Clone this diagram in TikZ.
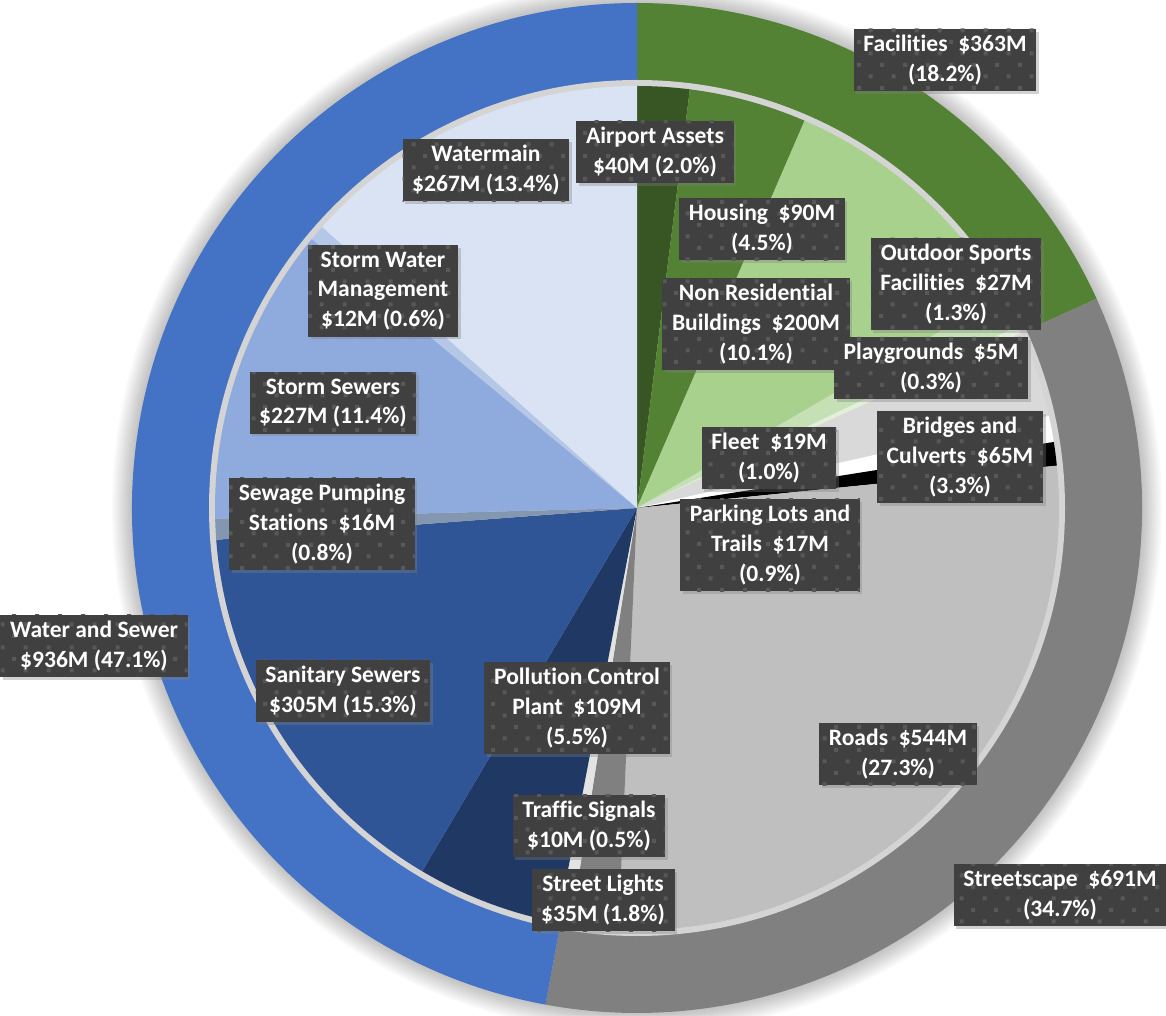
\documentclass[tikz,border=0pt]{standalone}
\usepackage{fontspec}
\setmainfont{Carlito}[Ligatures=NoCommon]
\usepackage{xcolor}
\usetikzlibrary{shadows, patterns.meta}

\definecolor{outgreen}{HTML}{548235}
\definecolor{outgray}{HTML}{808080}
\definecolor{outblue}{HTML}{4472C4}
\definecolor{sepgray}{HTML}{D4D4D4}
\definecolor{lblgray}{HTML}{404040}
\definecolor{lbldot}{HTML}{585858}

\tikzdeclarepattern{
  name=labeldots,
  type=uncolored,
  bottom left={(0pt,0pt)},
  top right={(13pt,13pt)},
  tile size={(13pt,13pt)},
  code={
    \fill (0.4pt,0.4pt) rectangle (2.7pt,2.7pt);
    \fill (6.9pt,6.9pt) rectangle (9.2pt,9.2pt);
  }
}

\begin{document}
\begin{tikzpicture}[
            x=0.02cm, y=0.02cm,
            box/.style={rectangle, fill=lblgray, text=white, align=center,
                inner xsep=5.5pt, inner ysep=3.5pt,
                font=\bfseries\fontsize{13.4}{17}\selectfont,
                drop shadow={shadow xshift=1.5pt, shadow yshift=-1.5pt, opacity=0.35},
                postaction={pattern=labeldots, pattern color=lbldot}}
        ]

        \fill[white] (0,0) rectangle (1166,1015);
        \useasboundingbox (0,0) rectangle (1166,1015);
        \coordinate (c) at (637,507);

        % Soft halo
        \foreach \r in {525,523,...,507}
            \fill[black, opacity=0.025] (c) circle[radius=\r];

        % Outer ring
        \foreach \a/\b/\col in {90/24.48/outgreen, 24.48/-100.44/outgray, -100.44/-270/outblue}
            \fill[\col] (c) -- ++(\a:505) arc[start angle=\a, end angle=\b, radius=505] -- cycle;
        \fill[sepgray] (c) circle[radius=428];

        % Inner pie
        \foreach \a/\b/\col in {
                90/82.8/375623, 82.8/66.6/548235, 66.6/30.24/A9D18E, 30.24/25.56/C5E0B4, 25.56/24.48/E2F0D9,
                24.48/12.6/D9D9D9, 12.6/9/FFFFFF, 9/5.76/000000, 5.76/-92.52/BFBFBF, -92.52/-99/808080, -99/-100.8/E3E3E3,
                -100.8/-120.6/1F3864, -120.6/-175.68/2F5597, -175.68/-178.56/8497B0, -178.56/-219.6/8FAADC,
                -219.6/-221.76/B4C7E7, -221.76/-270/DAE3F3}
        {
            \definecolor{slicecol}{HTML}{\col}
            \fill[slicecol] (c) -- ++(\a:422) arc[start angle=\a, end angle=\b, radius=422] -- cycle;
        }

        % Facilities
        \node[box] (facil) at (945,955) {Facilities\ \ \$363M\\(18.2\%)};
        \node[box] (airport) at (655,863) {Airport Assets\\\$40M (2.0\%)};
        \node[box] (housing) at (762,786) {Housing\ \ \$90M\\(4.5\%)};
        \node[box] (outdoor) at (956,731) {Outdoor Sports\\Facilities\ \ \$27M\\(1.3\%)};
        \node[box] (nonres) at (756,691) {Non Residential\\Buildings\ \ \$200M\\(10.1\%)};
        \node[box] (playgr) at (931,647) {Playgrounds\ \ \$5M\\(0.3\%)};

        % Streetscape
        \node[box] (streetscape) at (1060,120) {Streetscape\ \ \$691M\\(34.7\%)};
        \node[box] (bridges) at (960,558) {Bridges and\\Culverts\ \ \$65M\\(3.3\%)};
        \node[box] (fleet) at (769,557) {Fleet\ \ \$19M\\(1.0\%)};
        \node[box] (parking) at (770,470) {Parking Lots and\\Trails\ \ \$17M\\(0.9\%)};
        \node[box] (roads) at (898,261) {Roads\ \ \$544M\\(27.3\%)};
        \node[box] (traffic) at (589,189) {Traffic Signals\\\$10M (0.5\%)};
        \node[box] (streetl) at (603,115) {Street Lights\\\$35M (1.8\%)};

        % Water and Sewer
        \node[box] (water) at (94,369) {Water and Sewer\\\$936M (47.1\%)};
        \node[box] (watermain) at (486,845) {Watermain\\\$267M (13.4\%)};
        \node[box] (stormwater) at (383,724) {Storm Water\\Management\\\$12M (0.6\%)};
        \node[box] (stormsew) at (333,612) {Storm Sewers\\\$227M (11.4\%)};
        \node[box] (sewage) at (322,491) {Sewage Pumping\\Stations\ \ \$16M\\(0.8\%)};
        \node[box] (sanitary) at (343,324) {Sanitary Sewers\\\$305M (15.3\%)};
        \node[box] (pollution) at (577,307) {Pollution Control\\Plant\ \ \$109M\\(5.5\%)};

    \end{tikzpicture}
\end{document}
